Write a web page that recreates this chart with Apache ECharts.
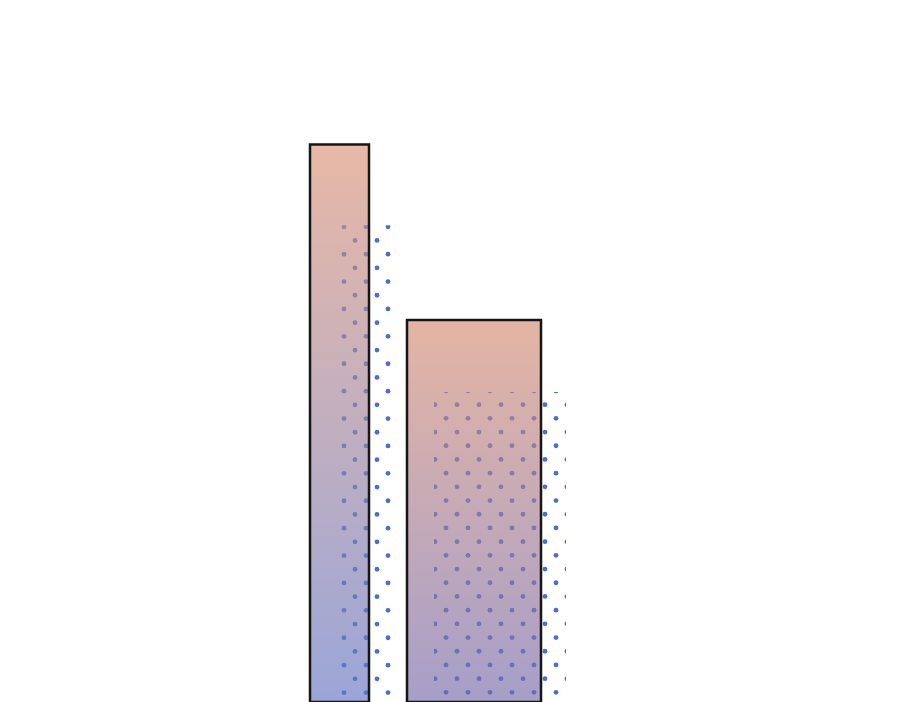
<!DOCTYPE html>
<html>
<head>
<meta charset="utf-8">
<script src="https://cdn.jsdelivr.net/npm/echarts@6/dist/echarts.min.js"></script>
<style>
html,body{margin:0;padding:0;background:#fff;}
#chart{width:900px;height:702px;}
</style>
</head>
<body>
<div id="chart"></div>
<script>
// Data
const barStart = [31, 40.7];
const barEnd = [36.9, 54.1];
const barValues = [95.3, 65.3];
const dotStart = [34, 43.4];
const dotEnd = [39.4, 56.6];
const dotValues = [81.5, 53];

// Styles
const barTop = ['rgba(220,146,117,0.65)', 'rgba(214,141,114,0.65)'];
const barBottom = ['rgba(100,118,196,0.65)', 'rgba(118,107,172,0.65)'];
const dotColOff = [4, 1];
const dotRowOff = [1.5, -1];
const dotFirstType = [0, 1];
const DX = 22, DY = 13.7, DR = 2.4;

const chart = echarts.init(document.getElementById('chart'));

const barData = barValues.map((v, i) => [barStart[i], barEnd[i], v]);
const dotData = dotValues.map((v, i) => [dotStart[i], dotEnd[i], v]);

chart.setOption({
  animation: false,
  backgroundColor: '#ffffff',
  grid: {left: 0, right: 0, top: 0, bottom: -4},
  xAxis: {type: 'value', min: 0, max: 90, show: false},
  yAxis: {type: 'value', min: 0, max: 120, show: false},
  series: [
    {
      type: 'custom',
      z: 1,
      data: dotData,
      renderItem: function (params, api) {
        const i = params.dataIndex;
        const p0 = api.coord([api.value(0), api.value(2)]);
        const p1 = api.coord([api.value(1), 0]);
        const x0 = p0[0], y0 = p0[1], x1 = p1[0], y1 = p1[1];
        const children = [];
        let r = 0;
        for (let y = y0 + dotRowOff[i]; y < y1 + 3; y += DY, r++) {
          const typeB = (r + dotFirstType[i]) % 2 === 1;
          for (let x = x0 + dotColOff[i] + (typeB ? 11 : 0); x < x1 + 3; x += DX) {
            children.push({type: 'circle', shape: {cx: x, cy: y, r: DR}, style: {fill: '#4a6fd0'}});
          }
        }
        return {
          type: 'group',
          children: children,
          clipPath: {type: 'rect', shape: {x: x0, y: y0, width: x1 - x0, height: y1 - y0}}
        };
      }
    },
    {
      type: 'custom',
      z: 2,
      data: barData,
      renderItem: function (params, api) {
        const i = params.dataIndex;
        const p0 = api.coord([api.value(0), api.value(2)]);
        const p1 = api.coord([api.value(1), 0]);
        return {
          type: 'rect',
          shape: {x: p0[0], y: p0[1], width: p1[0] - p0[0], height: p1[1] - p0[1]},
          style: {
            fill: new echarts.graphic.LinearGradient(0, 0, 0, 1, [
              {offset: 0, color: barTop[i]},
              {offset: 1, color: barBottom[i]}
            ]),
            stroke: '#161616',
            lineWidth: 2.5
          }
        };
      }
    }
  ]
});
</script>
</body>
</html>
